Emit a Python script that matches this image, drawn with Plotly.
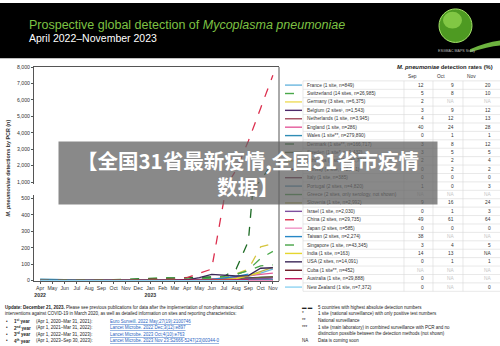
import plotly.graph_objects as go

W, H = 500, 346
def px(x): return x / W
def py(y): return 1 - y / H

# ---------------- data ----------------
months = ["Apr", "May", "Jun", "Jul", "Aug", "Sep", "Oct", "Nov", "Dec", "Jan",
          "Feb", "Mar", "Apr", "May", "Jun", "Jul", "Aug", "Sep", "Oct", "Nov"]
year_marks = {0: "2022", 9: "2023"}

countries = ["France (1 site, n=849)", "Switzerland (14 sites, n=26,985)", "Germany (3 sites, n=6,375)",
             "Belgium (2 sites\u00b9, n=1,543)", "Netherlands (1 site, n=3,945)", "England (1 site, n=286)",
             "Wales (1 site**, n=279,890)", "Denmark (1 site**, n=166,717)", "Sweden (1 site*, n=1,432)",
             "Lithuania (1 site**, n=1,784)", "Norway (1 site, n=2,761)", "Italy (1 site, n=385)",
             "Portugal (2 sites, n=4,820)", "Greece (2 sites, only serology, not shown)",
             "Slovenia (1 site, n=2,992)", "Israel (1 site, n=2,030)", "China (2 sites, n=29,735)",
             "Japan (2 sites, n=585)", "Taiwan (2 sites, n=2,274)", "Singapore (1 site, n=43,345)",
             "India (1 site, n=163)", "USA (2 sites, n=14,091)", "Cuba (1 site**, n=452)",
             "Australia (1 site, n=29,888)", "New Zealand (1 site, n=7,372)"]

colors = ["#6BB7DF", "#4AA84A", "#EEDC5B", "#4E2A6B", "#A04A5C", "#E45A9A", "#2F8DB5", "#1E6B25",
          "#5A6B2A", "#D6C640", "#5A1E33", "#6E2340", "#4F8FB8", "#3E9A3E", "#B5AE45", "#7E4F9E",
          "#DC2F4E", "#EF93C4", "#2787C6", "#47A447", "#E6D62E", "#3B2758", "#6A1523", "#C0185A",
          "#8FD3F2"]
dashed = [False, True, False, False, False, False, False, True, False, True, False, False, False,
          False, False, False, True, False, False, True, False, False, False, False, False]

france      = [3, 2, 2, 2, 2, 3, 3, 4, 4, 5, 5, 5, 6, 8, 10, 12, 15, 25, 45, 70]
switzerland = [2, 2, 3, 3, 4, 5, 6, 8, 12, 18, 18, 16, 15, 16, 20, 25, 35, 65, 135, 178]
germany     = [1, 1, 1, 1, 1, 1, 2, 2, 2, 2, 2, 2, 3, 3, 4, 6, 10, 22, None, None]
belgium     = [0, 0, 0, 0, 0, 1, 1, 1, 2, 2, 2, 3, 4, 6, 8, 10, 12, 15, 20, 22]
netherlands = [0, 0, 0, 0, 0, 0, 1, 1, 1, 1, 1, 1, 2, 2, 3, 4, 6, 10, 18, 20]
england     = [1, 1, 1, 1, 1, 2, 2, 2, 3, 3, 3, 3, 5, 8, 12, 15, 18, 30, 38, 45]
wales       = [9, 7, 3, 2, 1, 1, 1, 1, 1, 1, 1, 1, 1, 1, 1, 1, 1, 1, 2, 2]
denmark     = [0, 0, 0, 1, 2, 3, 4, 6, 8, 12, 14, 15, 16, 18, 20, 25, 70, 240, 1100, 2200]
sweden      = [0, 0, 0, 0, 0, 0, 1, 1, 1, 2, 2, 2, 3, 4, 5, 6, 8, 12, 20, 22]
lithuania   = [0, 0, 0, 0, 0, 0, 1, 2, 3, 4, 4, 5, 6, 8, 10, 22, 40, 70, 205, 225]
norway      = [0, 0, 0, 0, 0, 0, 0, 0, 0, 0, 0, 0, 0, 1, 1, 1, 1, 1, 2, 3]
italy       = [0, 0, 0, 0, 0, 0, 0, 0, 0, 0, 0, 0, 0, 0, 0, 0, 0, 0, 0, 0]
portugal    = [0, 0, 0, 0, 0, 0, 0, 0, 0, 0, 0, 0, 0, 0, 1, 1, 1, 1, 2, 4]
greece      = [None] * 20
slovenia    = [0, 0, 0, 0, 0, 0, 0, 0, 1, 1, 1, 1, 2, 3, 5, 8, 12, 30, 55, 80]
israel      = [0, 0, 0, 0, 0, 0, 0, 0, 0, 0, 0, 0, 1, 1, 2, 3, 5, 8, 10, 15]
china       = [2, 2, 2, 1, 1, 2, 3, 4, 6, 8, 8, 10, 18, 42, 70, 490, 1750, 3500, 5500, 7500]
japan       = [0, 0, 0, 0, 0, 0, 0, 0, 0, 0, 0, 0, 0, 0, 0, 0, 0, 0, 0, 0]
taiwan      = [1, 1, 1, 1, 1, 1, 1, 1, 2, 2, 2, 2, 3, 5, 8, 15, 25, 40, None, None]
singapore   = [1, 1, 1, 1, 1, 2, 3, 4, 5, 6, 6, 6, 8, 10, 15, 25, 40, 60, 90, 95]
india       = [0, 0, 0, 0, 0, 0, 1, 1, 1, 1, 1, 1, 1, 2, 3, 5, 12, 30, 48, None]
usa         = [0, 0, 0, 0, 0, 0, 0, 0, 1, 1, 1, 2, 5, 18, 38, 32, 28, 30, 75, 78]
cuba        = [0, 0, 0, 0, 0, 0, 0, 0, 0, 0, 0, 0, 0, 0, 0, 1, 1, None, None, None]
australia   = [0, 0, 0, 0, 0, 0, 0, 0, 0, 0, 0, 0, 1, 1, 2, 2, 3, 4, None, None]
new_zealand = [0, 0, 0, 0, 0, 0, 0, 0, 0, 0, 0, 0, 0, 0, 0, 0, 0, 0, None, 0]

series = [france, switzerland, germany, belgium, netherlands, england, wales, denmark, sweden,
          lithuania, norway, italy, portugal, greece, slovenia, israel, china, japan, taiwan,
          singapore, india, usa, cuba, australia, new_zealand]

rate_months = ["Sep", "Oct", "Nov"]
sep_rates = ["12", "5", "2", "3", "4", "40", "0", "3", "3", "2", "0", "0", "1", "NA", "9", "0", "49",
             "0", "38", "3", "14", "0", "NA", "0", "0"]
oct_rates = ["9", "8", "NA", "9", "12", "24", "1", "8", "5", "2", "2", "0", "0", "NA", "16", "1", "61",
             "0", "NA", "4", "13", "1", "NA", "NA", "NA"]
nov_rates = ["20", "10", "NA", "12", "13", "28", "1", "12", "5", "4", "2", "0", "3", "NA", "24", "3", "64",
             "0", "NA", "5", "NA", "1", "NA", "NA", "0"]
dark_na = {(20, 2)}

lower_ticks = [0, 100, 200, 300, 400, 500]
upper_ticks = [1000, 2000, 3000, 4000, 5000, 6000, 7000, 8000]

# ---------------- figure ----------------
fig = go.Figure()
xs = list(range(len(months)))
for name, col, dsh, vals in zip(countries, colors, dashed, series):
    for xa, ya in (("x", "y"), ("x2", "y2")):
        fig.add_trace(go.Scatter(x=xs, y=vals, mode="lines", xaxis=xa, yaxis=ya, name=name,
                                 line=dict(color=col, width=1.3, dash="dash" if dsh else "solid"),
                                 showlegend=False, hoverinfo="skip"))

ticktext = [m + ("<br><b>" + year_marks[i] + "</b>" if i in year_marks else "") for i, m in enumerate(months)]

axfont = dict(family="Liberation Sans, Arial", size=5.2, color="#333")
xdom = [px(34), px(279)]
fig.update_layout(
    width=W, height=H, margin=dict(l=0, r=0, t=0, b=0),
    paper_bgcolor="white", plot_bgcolor="white",
    xaxis=dict(domain=xdom, range=[-0.5, 19.5], anchor="y", tickmode="array", tickvals=xs,
               ticktext=ticktext, tickangle=0, tickfont=axfont, showline=True, linecolor="#555",
               linewidth=1, ticks="outside", ticklen=2, tickcolor="#555", showgrid=False,
               zeroline=False),
    xaxis2=dict(domain=xdom, range=[-0.5, 19.5], anchor="y2", side="top", showline=True,
                linecolor="#555", linewidth=1, showticklabels=False, ticks="", showgrid=False,
                zeroline=False),
    yaxis=dict(domain=[py(282.0), py(194.9)], range=[-2, 520], tickmode="array",
               tickvals=lower_ticks, tickfont=axfont, showline=True, linecolor="#555", linewidth=1,
               ticks="outside", ticklen=2, tickcolor="#555", showgrid=False, zeroline=False),
    yaxis2=dict(domain=[py(183.4), py(65)], range=[900, 8000], tickmode="array",
                tickvals=upper_ticks, tickformat=",", tickfont=axfont, showline=True,
                linecolor="#555", linewidth=1, ticks="outside", ticklen=2, tickcolor="#555",
                showgrid=False, zeroline=False),
)

shapes = []
annotations = []
# header band
shapes.append(dict(type="rect", xref="paper", yref="paper", x0=0, x1=1, y0=py(56), y1=1,
                   fillcolor="black", line=dict(width=0), layer="below"))
# globe
shapes.append(dict(type="circle", xref="paper", yref="paper", x0=px(439), x1=px(472), y0=py(40), y1=py(6),
                   fillcolor="#4E9A22", line=dict(color="#A6E36B", width=1)))
shapes.append(dict(type="circle", xref="paper", yref="paper", x0=px(443), x1=px(462), y0=py(26), y1=py(9),
                   fillcolor="#8FD24E", line=dict(width=0), opacity=0.8))
shapes.append(dict(type="path", xref="paper", yref="paper",
                   path="M %f %f Q %f %f %f %f L %f %f Q %f %f %f %f Z" % (
                       px(470), py(47), px(485), py(40), px(500), py(38), px(500), py(43),
                       px(488), py(44), px(470), py(50)),
                   fillcolor="#6DB33F", line=dict(width=0)))
# right frame line across the break
shapes.append(dict(type="line", xref="x domain", yref="paper", x0=1, x1=1, y0=py(282), y1=py(65),
                   line=dict(color="#555", width=1)))

annotations.append(dict(xref="paper", yref="paper", x=px(27), y=py(22), xanchor="left", yanchor="middle",
                        text="Prospective global detection of <i>Mycoplasma pneumoniae</i>", showarrow=False,
                        font=dict(family="Liberation Sans, Arial", size=12.5, color="#7DC243")))
annotations.append(dict(xref="paper", yref="paper", x=px(27), y=py(36), xanchor="left", yanchor="middle",
                        text="April 2022\u2013November 2023", showarrow=False,
                        font=dict(family="Liberation Sans, Arial", size=10.5, color="white")))
annotations.append(dict(xref="paper", yref="paper", x=px(456), y=py(49), xanchor="center", yanchor="middle",
                        text="ESGMAC MAPS Study", showarrow=False,
                        font=dict(family="Liberation Sans, Arial", size=3.6, color="#bbb")))
# y title
annotations.append(dict(xref="paper", yref="paper", x=px(8), y=py(168), xanchor="center", yanchor="middle",
                        textangle=-90, showarrow=False,
                        text="<b><i>M. pneumoniae</i> detections by PCR (n)</b>",
                        font=dict(family="Liberation Sans, Arial", size=5.4, color="#333")))

# legend table
tfont = dict(family="Liberation Sans, Arial", size=4.8, color="#333")
row0, rh = 83.3, 8.54
annotations.append(dict(xref="paper", yref="paper", x=px(395), y=py(65), xanchor="left", yanchor="middle",
                        showarrow=False, text="<b><i>M. pneumoniae</i> detection rates (%)</b>",
                        font=dict(family="Liberation Sans, Arial", size=5.8, color="#222")))
col_left = [404, 433, 463]
col_right = [433, 463, 500]
for j, m in enumerate(rate_months):
    annotations.append(dict(xref="paper", yref="paper", x=px(col_left[j] + 2), y=py(75), xanchor="left",
                            yanchor="middle", showarrow=False, text=m, font=tfont))
grid = dict(color="#D9D9D9", width=0.6)
top, bottom = row0 - rh / 2, row0 + (len(countries) - 0.5) * rh
for xv in [303, 404, 433, 463]:
    shapes.append(dict(type="line", xref="paper", yref="paper", x0=px(xv), x1=px(xv), y0=py(top), y1=py(bottom),
                       line=grid))
for i in range(len(countries) + 1):
    yv = top + i * rh
    shapes.append(dict(type="line", xref="paper", yref="paper", x0=px(303), x1=1, y0=py(yv), y1=py(yv),
                       line=grid))
for i, (name, col, dsh) in enumerate(zip(countries, colors, dashed)):
    yc = row0 + i * rh
    shapes.append(dict(type="line", xref="paper", yref="paper", x0=px(285), x1=px(302), y0=py(yc), y1=py(yc),
                       line=dict(color=col, width=1.4, dash="dash" if dsh else "solid")))
    annotations.append(dict(xref="paper", yref="paper", x=px(305), y=py(yc), xanchor="left", yanchor="middle",
                            showarrow=False, text=name, font=tfont))
    for j, vals in enumerate([sep_rates, oct_rates, nov_rates]):
        v = vals[i]
        c = "#C4C4C4" if (v == "NA" and (i, j) not in dark_na) else "#333"
        annotations.append(dict(xref="paper", yref="paper", x=px(col_right[j] - 7), y=py(yc), xanchor="right",
                                yanchor="middle", showarrow=False, text=v,
                                font=dict(family="Liberation Sans, Arial", size=4.8, color=c)))

# footnotes
ffont = dict(family="Liberation Sans, Arial", size=4.5, color="#222")
lfont = dict(family="Liberation Sans, Arial", size=4.5, color="#1F5FBF")
left_lines = [
    "<b>Update: December 21, 2023.</b> Please see previous publications for data after the implementation of non-pharmaceutical",
    "interventions against COVID-19 in March 2020, as well as detailed information on sites and reporting characteristics:",
]
for k, t in enumerate(left_lines):
    annotations.append(dict(xref="paper", yref="paper", x=px(3), y=py(309 + k * 6.3), xanchor="left",
                            yanchor="middle", showarrow=False, text=t, font=ffont))
years = [("1<sup>st</sup> year", "(Apr 1, 2020\u2013Mar 31, 2021):", "Euro Surveill. 2022 May;27(19):2100746"),
         ("2<sup>nd</sup> year", "(Apr 1, 2021\u2013Mar 31, 2022):", "Lancet Microbe. 2022 Dec;3(12):e897"),
         ("3<sup>rd</sup> year", "(Apr 1, 2022\u2013Mar 31, 2023):", "Lancet Microbe. 2023 Oct;4(10):e763"),
         ("4<sup>th</sup> year", "(Apr 1, 2023\u2013Sep 30, 2023):", "Lancet Microbe. 2023 Nov 23:S2666-5247(23)00344-0")]
for k, (a, b, c) in enumerate(years):
    yv = 323 + k * 6.6
    annotations.append(dict(xref="paper", yref="paper", x=px(4), y=py(yv), xanchor="left", yanchor="middle",
                            showarrow=False, text="\u2022", font=ffont))
    annotations.append(dict(xref="paper", yref="paper", x=px(12), y=py(yv), xanchor="left", yanchor="middle",
                            showarrow=False, text="<b>" + a + "</b>", font=ffont))
    annotations.append(dict(xref="paper", yref="paper", x=px(34), y=py(yv), xanchor="left", yanchor="middle",
                            showarrow=False, text=b, font=ffont))
    annotations.append(dict(xref="paper", yref="paper", x=px(108), y=py(yv), xanchor="left", yanchor="middle",
                            showarrow=False, text="<u>" + c + "</u>", font=lfont))
right_notes = [("\u25ac \u25ac", "5 countries with highest absolute detection numbers", 309),
               ("*", "1 site (national surveillance) with only positive test numbers", 315.5),
               ("**", "National surveillance", 322),
               ("***", "1 site (main laboratory) in combined surveillance with PCR and no", 329),
               (None, "distinction possible between the detection methods (not shown)", 335.5),
               ("NA", "Data is coming soon", 342.5)]
for sym, t, yv in right_notes:
    if sym:
        annotations.append(dict(xref="paper", yref="paper", x=px(300), y=py(yv), xanchor="left",
                                yanchor="middle", showarrow=False, text=sym, font=ffont))
    annotations.append(dict(xref="paper", yref="paper", x=px(316), y=py(yv), xanchor="left", yanchor="middle",
                            showarrow=False, text=t, font=ffont))

# grey overlay banner with Chinese text (drawn last so it covers the table text)
annotations.append(dict(xref="paper", yref="paper", x=px(248), y=py(172), xanchor="center", yanchor="middle",
                        showarrow=False, width=378, height=62, borderpad=0,
                        bgcolor="rgba(100,100,100,0.76)", align="center",
                        text="<b>\u3010\u5168\u56fd31\u7701\u6700\u65b0\u75ab\u60c5,\u5168\u56fd31\u7701\u5e02\u75ab\u60c5<br>\u6570\u636e\u3011</b>",
                        font=dict(family="Noto Sans CJK SC", size=20.5, color="white")))

fig.update_layout(shapes=shapes, annotations=annotations)
fig.write_html("out.html")
